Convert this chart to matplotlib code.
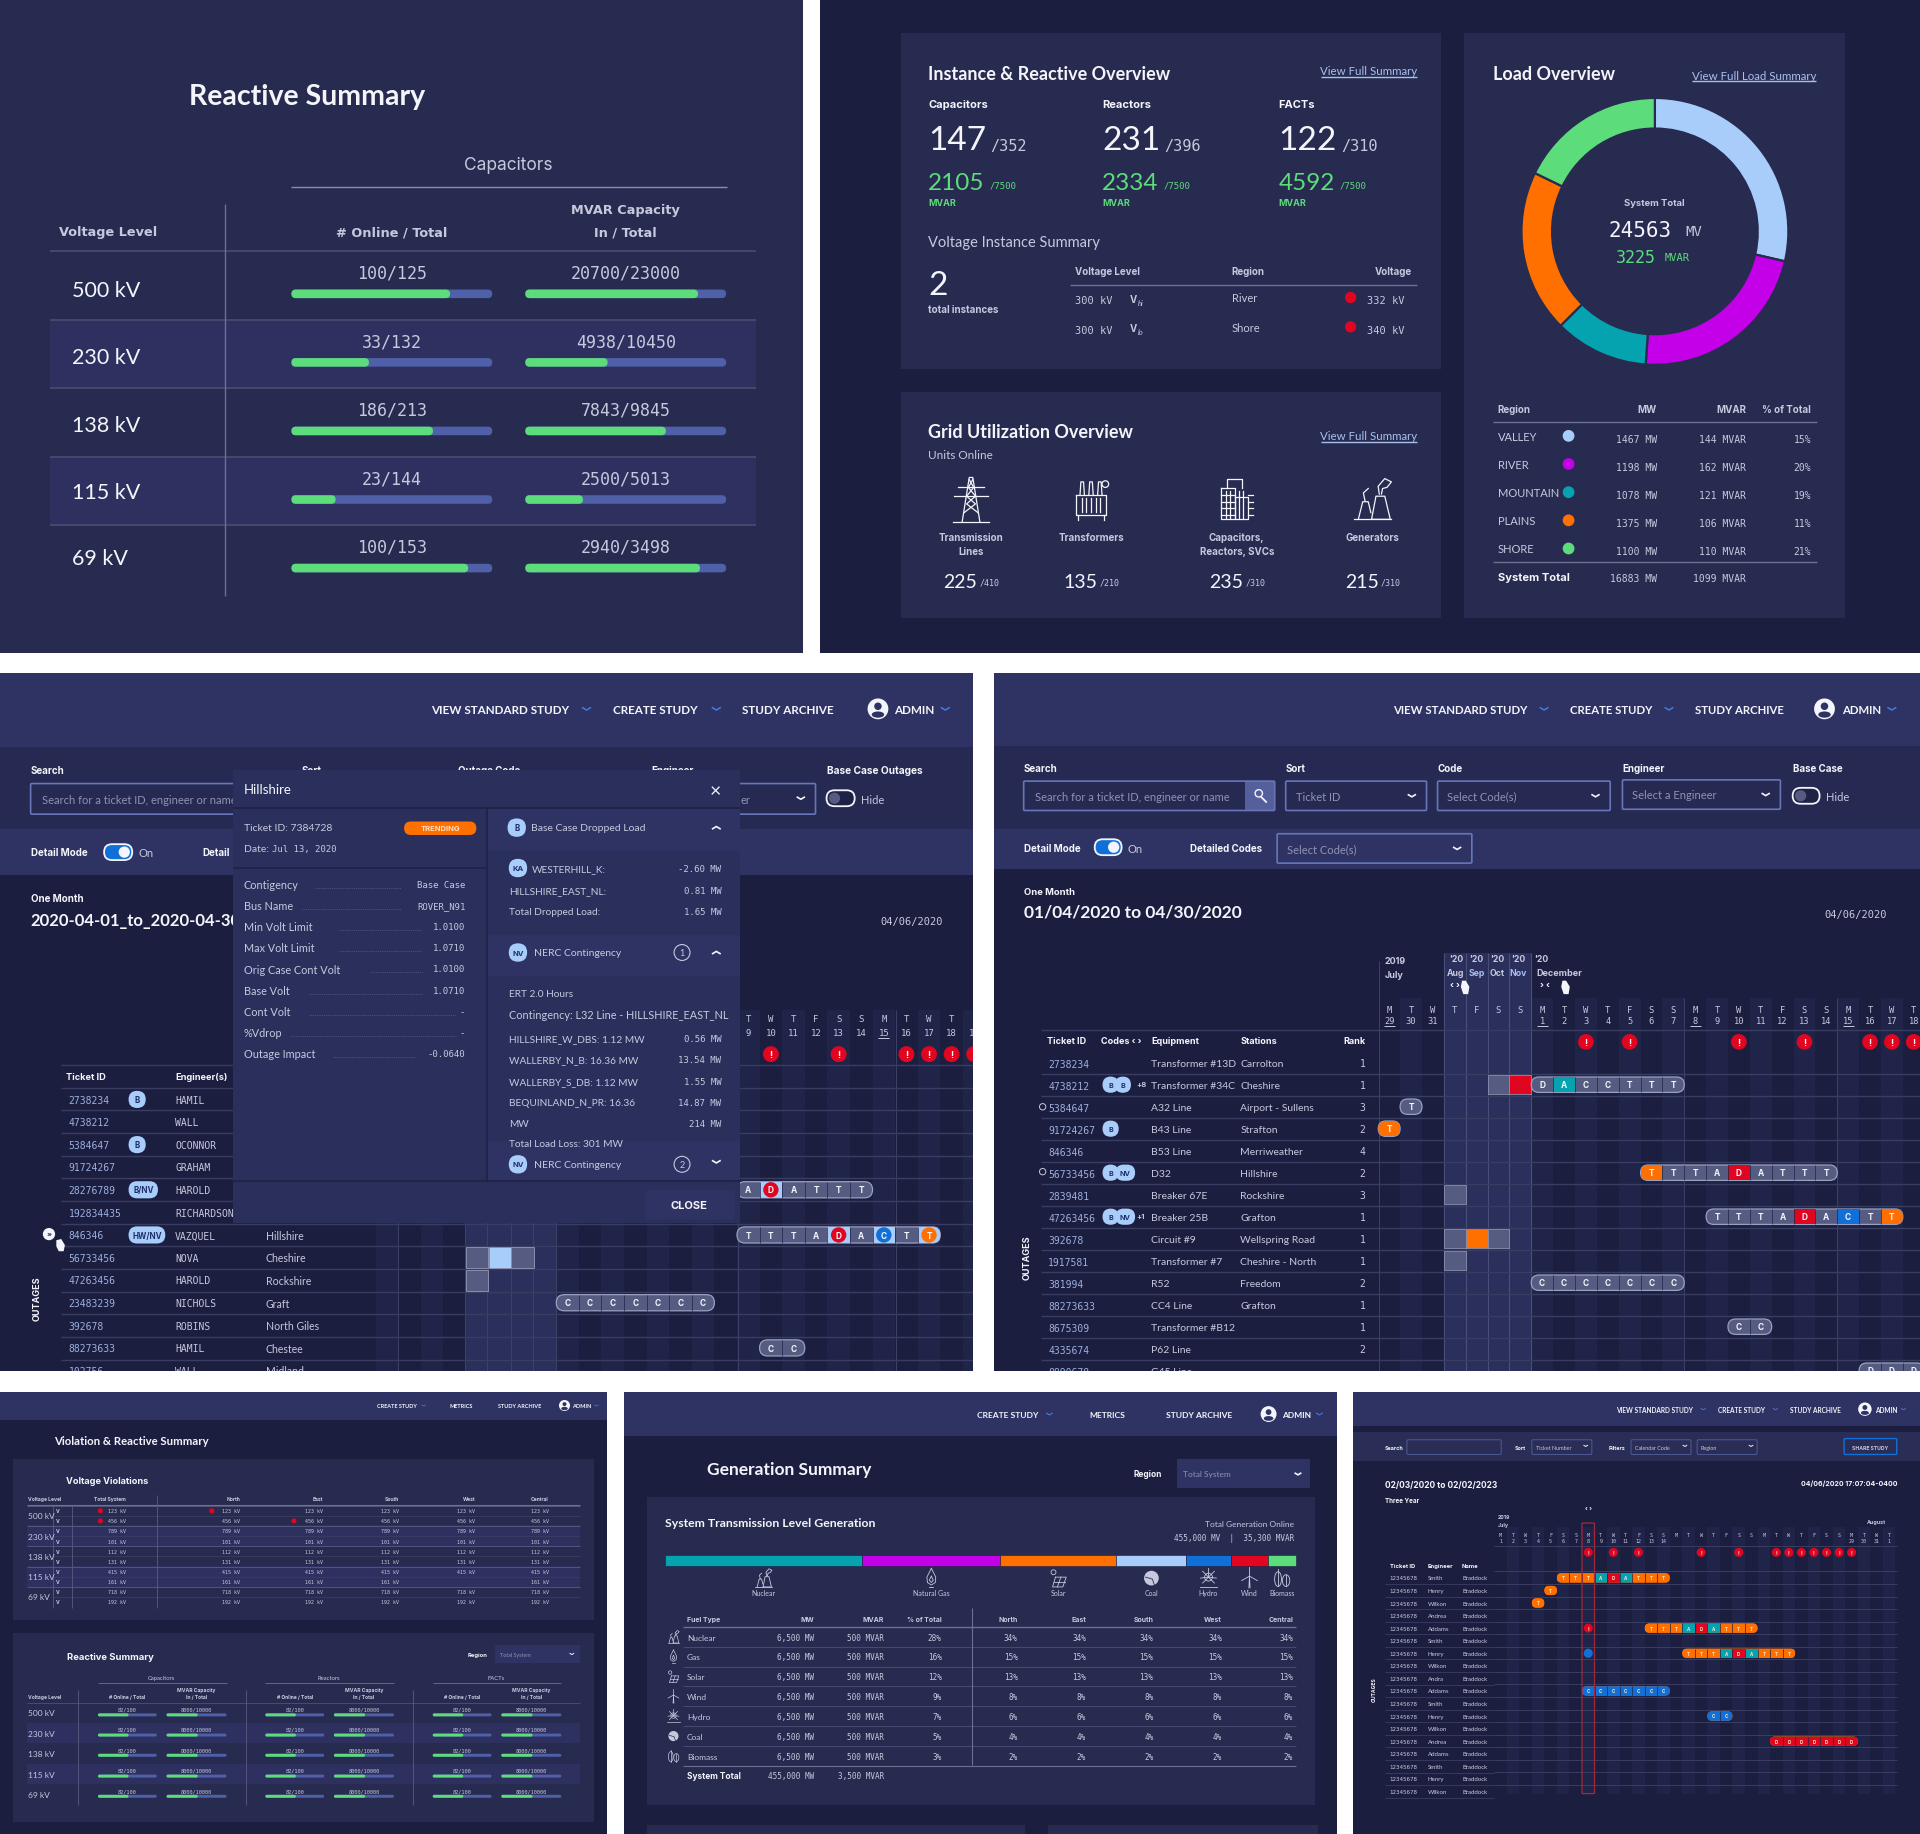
import matplotlib
matplotlib.use("Agg")
import matplotlib.pyplot as plt
from matplotlib.patches import Rectangle, FancyBboxPatch, Ellipse, Polygon

# ---- colours
PANEL = "#282b50"
DARK = "#1c1e40"
BAND = "#2e3160"
NAV = "#2f3363"
FILT = "#262a52"
LINE = "#4a4e75"
GRID2 = "#212449"
HILITE = "#2b2f5c"
GRAY = "#565b82"
WHITE = "#f4f5fa"
SOFT = "#c6c9dd"
GREEN = "#5cdc7a"
TRACK = "#5060a8"
LBLUE = "#a9cdfb"
PURPLE = "#c400e8"
TEAL = "#05a3b0"
ORANGE = "#ff7000"
RED = "#e0061f"
BLUE = "#1170d8"
LINK = "#a9c0ee"
CHEV = "#3f7ee0"

# ---- reactive summary (top left)
voltage_levels = ["500 kV", "230 kV", "138 kV", "115 kV", "69 kV"]
online_text = ["100/125", "33/132", "186/213", "23/144", "100/153"]
online_fill = [0.79, 0.386, 0.705, 0.22, 0.88]
mvar_text = ["20700/23000", "4938/10450", "7843/9845", "2500/5013", "2940/3498"]
mvar_fill = [0.86, 0.41, 0.70, 0.287, 0.87]

# ---- instance overview
inst_names = ["Capacitors", "Reactors", "FACTs"]
inst_big = ["147", "231", "122"]
inst_tot = ["/352", "/396", "/310"]
inst_mvar = ["2105", "2334", "4592"]
viol_level = ["300 kV", "300 kV"]
viol_sub = ["hi", "lo"]
viol_region = ["River", "Shore"]
viol_volt = ["332 kV", "340 kV"]

# ---- grid utilization
unit_names = [["Transmission", "Lines"], ["Transformers"], ["Capacitors,", "Reactors, SVCs"], ["Generators"]]
unit_big = ["225", "135", "235", "215"]
unit_tot = ["/410", "/210", "/310", "/310"]
unit_icons = ["tower", "transformer", "capacitor", "generator"]

# ---- load overview
load_regions = ["VALLEY", "RIVER", "MOUNTAIN", "PLAINS", "SHORE"]
load_share = [28.6, 22.5, 11.4, 19.7, 17.8]
load_colors = [LBLUE, PURPLE, TEAL, ORANGE, GREEN]
load_mw = ["1467 MW", "1198 MW", "1078 MW", "1375 MW", "1100 MW"]
load_mvar = ["144 MVAR", "162 MVAR", "121 MVAR", "106 MVAR", "110 MVAR"]
load_pct = ["15%", "20%", "19%", "11%", "21%"]

# ---- outage calendar, middle left
ml_tickets = ["2738234", "4738212", "5384647", "91724267", "28276789", "192834435", "846346",
              "56733456", "47263456", "23483239", "392678", "88273633", "102756"]
ml_badges = ["B", "", "B", "", "B/NV", "", "HW/NV", "", "", "", "", "", ""]
ml_engineers = ["HAMIL", "WALL", "OCONNOR", "GRAHAM", "HAROLD", "RICHARDSON", "VAZQUEL",
                "NOVA", "HAROLD", "NICHOLS", "ROBINS", "HAMIL", "WALL"]
ml_stations = ["", "", "", "", "", "", "Hillshire", "Cheshire", "Rockshire", "Graft",
               "North Giles", "Chestee", "Midland"]
ml_day_letters = ["T", "W", "T", "F", "S", "S", "M", "T", "W", "T", "F"]
ml_day_nums = ["9", "10", "11", "12", "13", "14", "15", "16", "17", "18", "19"]
ml_alert_cols = [9, 12, 15, 16, 17, 18]
# row, first column, letters, cell colours (. keeps the grey)
ml_pills = [(4, 8, "ADATTT", ".R...."), (6, 8, "TTTADACTT", "....R.B.O"),
            (9, 0, "CCCCCCC", "......."), (11, 9, "CC", "..")]
ml_squares = [(7, -4, GRAY), (7, -3, LBLUE), (7, -2, GRAY), (8, -4, GRAY)]

modal_labels = ["Contigency", "Bus Name", "Min Volt Limit", "Max Volt Limit", "Orig Case Cont Volt",
                "Base Volt", "Cont Volt", "%Vdrop", "Outage Impact"]
modal_values = ["Base Case", "ROVER_N91", "1.0100", "1.0710", "1.0100", "1.0710", "-", "-", "-0.0640"]
drop_labels = ["WESTERHILL_K:", "HILLSHIRE_EAST_NL:", "Total Dropped Load:"]
drop_values = ["-2.60 MW", "0.81 MW", "1.65 MW"]
cont_labels = ["HILLSHIRE_W_DBS: 1.12 MW", "WALLERBY_N_B: 16.36 MW", "WALLERBY_S_DB: 1.12 MW",
               "BEQUINLAND_N_PR: 16.36", "MW"]
cont_values = ["0.56 MW", "13.54 MW", "1.55 MW", "14.87 MW", "214 MW"]

# ---- outage calendar, middle right
mr_tickets = ["2738234", "4738212", "5384647", "91724267", "846346", "56733456", "2839481", "47263456",
              "392678", "1917581", "381994", "88273633", "8675309", "4335674", "8890678"]
mr_equipment = ["Transformer #13D", "Transformer #34C", "A32 Line", "B43 Line", "B53 Line", "D32",
                "Breaker 67E", "Breaker 25B", "Circuit #9", "Transformer #7", "R52", "CC4 Line",
                "Transformer #B12", "P62 Line", "G45 Line"]
mr_stations = ["Carrolton", "Cheshire", "Airport - Sullens", "Strafton", "Merriweather", "Hillshire",
               "Rockshire", "Grafton", "Wellspring Road", "Cheshire - North", "Freedom", "Grafton", "", "", ""]
mr_rank = ["1", "1", "3", "2", "4", "2", "3", "1", "1", "1", "2", "1", "1", "2", ""]
mr_codes = [[], ["B", "B"], [], ["B"], [], ["B", "NV"], [], ["B", "NV"], [], [], [], [], [], [], []]
mr_extra = ["", "+8", "", "", "", "", "", "+1", "", "", "", "", "", "", ""]
mr_day_letters = ["M", "T", "W", "T", "F", "S", "S", "M", "T", "W", "T", "F", "S", "S",
                  "M", "T", "W", "T", "F", "S", "S", "M", "T", "W", "T"]
mr_day_nums = ["29", "30", "31", "", "", "", "", "1", "2", "3", "4", "5", "6", "7",
               "8", "9", "10", "11", "12", "13", "14", "15", "16", "17", "18"]
mr_alert_cols = [9, 11, 16, 19, 22, 23, 24]
mr_pills = [(1, 7, "DACCTTT", ".T....."), (2, 1, "T", "."), (3, 0, "T", "O"),
            (5, 12, "TTTADATTT", "O...R...."), (7, 15, "TTTADACTT", "....R.B.O"),
            (10, 7, "CCCCCCC", "......."), (12, 16, "CC", ".."), (14, 22, "DDD", "...")]
mr_squares = [(1, 5, GRAY), (1, 6, RED), (6, 3, GRAY), (8, 3, GRAY), (8, 4, ORANGE), (8, 5, GRAY), (9, 3, GRAY)]

# ---- violation & reactive summary
vv_values = ["123", "456", "789", "101", "112", "131", "415", "161", "718", "192"]
vv_heads = ["Total System", "North", "East", "South", "West", "Central"]
vv_red = [(0, 0), (1, 0), (0, 1), (1, 2)]
rs_groups = ["Capacitors", "Reactors", "FACTs"]
rs_online = "82/100"
rs_mvar = "8000/10000"
rs_fill = [0.52, 0.52, 0.52, 0.52, 0.52]

# ---- generation summary
gen_labels = ["Nuclear", "Natural Gas", "Solar", "Coal", "Hydro", "Wind", "Biomass"]
gen_icons = ["nuclear", "gas", "solar", "coal", "hydro", "wind", "biomass"]
gen_share = [31.3, 21.9, 18.4, 11.1, 7.0, 6.0, 4.3]
gen_colors = [TEAL, PURPLE, ORANGE, LBLUE, BLUE, RED, GREEN]
fuel_rows = ["Nuclear", "Gas", "Solar", "Wind", "Hydro", "Coal", "Biomass"]
fuel_icons = ["nuclear", "gas", "solar", "wind", "hydro", "coal", "biomass"]
fuel_pct = ["28%", "16%", "12%", "9%", "7%", "5%", "3%"]
fuel_region_pct = ["34%", "15%", "13%", "8%", "6%", "4%", "2%"]
gen_regions = ["North", "East", "South", "West", "Central"]

# ---- three year calendar
br_names = ["Smith", "Henry", "Wilkon", "Andrea", "Addams", "Smith", "Henry", "Wilkon", "Andra",
            "Addams", "Smith", "Henry", "Wilkon", "Andrea", "Addams", "Smith", "Henry", "Wilkon"]
br_day_letters = ["M", "T", "W", "T", "F", "S", "S"] * 4 + ["M", "T", "W", "T"]
br_day_nums = ["1", "2", "3", "4", "5", "6", "7", "8", "9", "10", "11", "12", "13", "14"] + [""] * 14 + ["29", "30", "31", "1"]
br_alert_cols = [7, 9, 11, 16, 19, 22, 23, 24, 25, 26, 27, 28]
br_pills = [(0, 5, "TTTADATTT", "OOOTRTOOO"), (1, 4, "T", "O"), (2, 3, "T", "O"), (4, 12, "TTTADATTT", "OOOTRTOOO"),
            (6, 15, "TTTADATTT", "OOOTRTOOO"), (9, 7, "CCCCCCC", "BBBBBBB"), (11, 17, "CC", "BB"),
            (13, 22, "DDDDDDD", "RRRRRRR")]

CELL = {".": None, "R": RED, "B": BLUE, "O": ORANGE, "T": TEAL}

SANS = "Lato"
MONO = "DejaVu Sans Mono"
WIDE = "DejaVu Sans"

fig = plt.figure(figsize=(19.2, 18.34), dpi=100, facecolor="white")
ax = fig.add_axes([0, 0, 1, 1])
ax.set_xlim(0, 1568)
ax.set_ylim(1498, 0)
ax.axis("off")


def T(x, y, s, fs=8, c=SOFT, w="normal", ha="left", f=None, z=6, **kw):
    if f is None:
        f = "Inter" if (w == "bold" and fs < 10.5) else SANS
    return ax.text(x, y + 0.5 + 0.08 * fs, s, fontsize=fs, color=c, fontweight=w, ha=ha, va="center",
                   family=f, zorder=z, **kw)


def box(x0, y0, x1, y1, c, z=1, ec="none", lw=0):
    ax.add_patch(Rectangle((x0, y0), x1 - x0, y1 - y0, fc=c, ec=ec, lw=lw, zorder=z))


def rbox(x0, y0, x1, y1, c, r=3, z=4, ec="none", lw=0):
    p = FancyBboxPatch((x0, y0), x1 - x0, y1 - y0, boxstyle="round,pad=0,rounding_size=%f" % r,
                       fc=c, ec=ec, lw=lw, zorder=z)
    ax.add_patch(p)
    return p


def hl(x0, x1, y, c=LINE, lw=1.0, z=3, **kw):
    ax.plot([x0, x1], [y, y], color=c, lw=lw, zorder=z, solid_capstyle="butt", **kw)


def vl(x, y0, y1, c=LINE, lw=1.0, z=3):
    ax.plot([x, x], [y0, y1], color=c, lw=lw, zorder=z, solid_capstyle="butt")


def chev(x, y, s=3, c=SOFT, up=False, lw=1.2, z=6):
    d = -s * 0.6 if up else s * 0.6
    ax.plot([x - s, x, x + s], [y - d / 2, y + d / 2, y - d / 2], color=c, lw=lw, zorder=z)


def dot(x, y, r, c, z=5, ec="none", lw=0):
    ax.add_patch(Ellipse((x, y), 2 * r, 2 * r, fc=c, ec=ec, lw=lw, zorder=z))


def progress(x0, x1, y, frac, h=7):
    rbox(x0, y - h / 2, x1, y + h / 2, TRACK, r=h / 2, z=4)
    rbox(x0, y - h / 2, x0 + (x1 - x0) * frac, y + h / 2, GREEN, r=h / 2, z=5)


def badge(x, y, s, fs=6.5, h=8, z=6, wide=None):
    wd = wide if wide else h
    rbox(x - wd, y - h, x + wd, y + h, LBLUE, r=h, z=z)
    T(x, y, s, fs, "#20306a", "bold", "center", z=z + 1)


def user_icon(x, y, r, z=6):
    dot(x, y, r, WHITE, z=z)
    dot(x, y - r * 0.25, r * 0.36, NAV, z=z + 1)
    ax.add_patch(Ellipse((x, y + r * 0.55), r * 1.2, r * 0.6, fc=NAV, ec="none", zorder=z + 1))


def nav(items, y, fs, icon_x, icon_r, admin_x):
    # items: x, label, chevron x
    for x, s, ch in items:
        T(x, y, s, fs, WHITE, "bold", f=SANS)
        if ch:
            chev(ch, y, fs * 0.38, CHEV, lw=fs * 0.13)
    user_icon(icon_x, y, icon_r)
    T(admin_x, y, "ADMIN", fs, WHITE, "bold", f=SANS)
    chev(admin_x + fs * 5.0, y, fs * 0.38, CHEV, lw=fs * 0.13)


def dropdown(x0, y0, x1, y1, s, fs=8, c="#8e93b4", z=4):
    rbox(x0, y0, x1, y1, "none", r=1, z=z, ec="#6776b8", lw=1.2)
    T(x0 + 8, (y0 + y1) / 2, s, fs, c, z=z + 1)
    chev(x1 - 12, (y0 + y1) / 2, 2.8, WHITE, z=z + 1)


def toggle(x0, x1, y, on=True, z=5):
    h = 6.5
    rbox(x0, y - h, x1, y + h, BLUE if on else "#1f2245", r=h, z=z, ec=WHITE, lw=1.3)
    dot(x1 - h if on else x0 + h, y, 4.6, WHITE if on else GRAY, z=z + 1)


def pill(x_of, y, col, letters, colors, cw, h, fs, base=GRAY, ec="#9aa0c0", txt=WHITE, z=5, round_marks=False):
    x0 = x_of(col) - cw / 2
    x1 = x_of(col + len(letters) - 1) + cw / 2
    p = rbox(x0, y - h, x1, y + h, base, r=h, z=z, ec=ec, lw=0.9)
    for i, (l, k) in enumerate(zip(letters, colors)):
        xc = x_of(col + i)
        if CELL[k]:
            r = Rectangle((xc - cw / 2, y - h), cw, 2 * h, fc=LBLUE if round_marks else CELL[k], ec="none", zorder=z + 0.2)
            ax.add_patch(r)
            r.set_clip_path(p)
            if round_marks:
                dot(xc, y, h * 0.95, CELL[k], z=z + 0.4)
        if i > 0:
            vl(xc - cw / 2, y - h, y + h, "#1f2245", 0.5, z=z + 0.3)
        T(xc, y, l, fs, txt, "bold", "center", z=z + 1)


def icon(kind, cx, cy, s, c=WHITE, lw=0.9, z=6):
    def pl(pts, closed=False):
        xs = [cx + p[0] * s for p in pts]
        ys = [cy + p[1] * s for p in pts]
        if closed:
            xs.append(xs[0])
            ys.append(ys[0])
        ax.plot(xs, ys, color=c, lw=lw, zorder=z, solid_joinstyle="round")

    if kind == "tower":
        pl([(-.4, 1), (-.08, -1), (.08, -1), (.4, 1)])
        pl([(-.6, -.55), (.6, -.55)])
        pl([(-.75, -.15), (.75, -.15)])
        pl([(-.32, .6), (.2, .2), (-.2, -.15), (.12, -.55), (-.08, -.9)])
        pl([(.32, .6), (-.2, .2), (.2, -.15), (-.12, -.55), (.08, -.9)])
        pl([(-.8, 1), (.8, 1)])
    elif kind == "transformer":
        pl([(-.7, -.2), (.7, -.2), (.7, .7), (-.7, .7)], True)
        for i in range(5):
            pl([(-.42 + i * .21, -.05), (-.42 + i * .21, .55)])
        for xb in (-.4, 0, .4):
            pl([(xb - .1, -.2), (xb - .06, -.8), (xb + .06, -.8), (xb + .1, -.2)])
        pl([(-.6, .7), (-.6, .95)])
        pl([(.6, .7), (.6, .95)])
        ax.add_patch(Ellipse((cx + .65 * s, cy - .7 * s), .3 * s, .3 * s, fc="none", ec=c, lw=lw, zorder=z))
    elif kind == "capacitor":
        pl([(-.7, -.5), (-.1, -.5), (-.1, .9), (-.7, .9)], True)
        pl([(-.1, -.1), (.5, -.1), (.5, .9), (-.1, .9)], True)
        pl([(-.45, -.5), (-.45, -.95), (.25, -.95), (.25, -.5)])
        for yy in (-.2, .1, .4, .7):
            pl([(-.7, yy), (-.1, yy)])
            pl([(.5, yy), (.75, yy)])
        for xx in (-.5, -.3, .1, .3):
            pl([(xx, -.4), (xx, .85)])
    elif kind in ("generator", "nuclear"):
        pl([(-.05, .9), (.15, -.15), (.55, -.15), (.8, .9)], True)
        pl([(-.65, .9), (-.45, .1), (-.2, .1), (-.08, .6)])
        pl([(-.85, .9), (.85, .9)])
        pl([(.3, -.25), (.25, -.6), (.55, -.95), (.85, -.8), (.65, -.55), (.45, -.5), (.4, -.25)])
        pl([(-.35, .05), (-.42, -.3), (-.2, -.5)])
    elif kind == "gas":
        pl([(0, -1), (.45, -.1), (.4, .45), (0, .7), (-.4, .45), (-.45, -.1)], True)
        pl([(0, -.2), (.2, .2), (0, .45), (-.2, .2)], True)
        pl([(-.2, .95), (.2, .95)])
    elif kind == "solar":
        pl([(-.3, -.1), (.8, -.1), (.45, .9), (-.6, .9)], True)
        pl([(.25, -.1), (-.1, .9)])
        pl([(-.45, .4), (.65, .4)])
        ax.add_patch(Ellipse((cx - .5 * s, cy - .6 * s), .5 * s, .5 * s, fc="none", ec=c, lw=lw, zorder=z))
    elif kind == "coal":
        ax.add_patch(Ellipse((cx, cy), 1.5 * s, 1.5 * s, fc=c, ec="none", zorder=z))
        ax.plot([cx - .6 * s, cx + .1 * s, cx + .3 * s], [cy - .1 * s, cy + .1 * s, cy + .7 * s],
                color=PANEL, lw=lw, zorder=z + 0.1)
    elif kind == "hydro":
        for a, b in [(-.8, 0), (0, -1), (.6, -.7), (-.6, -.7), (.8, 0), (.6, .5), (-.6, .5)]:
            pl([(0, -.1), (a, b)])
        ax.add_patch(Ellipse((cx, cy - .1 * s), .8 * s, .8 * s, fc="none", ec=c, lw=lw, zorder=z))
        pl([(-.9, .9), (.9, .9)])
    elif kind == "wind":
        pl([(-.06, 1), (0, -.2), (.06, 1)])
        pl([(0, -.2), (0, -1.1)])
        pl([(0, -.2), (-.8, .25)])
        pl([(0, -.2), (.8, .25)])
    else:
        ax.add_patch(Ellipse((cx - .4 * s, cy + .1 * s), .7 * s, 1.5 * s, fc="none", ec=c, lw=lw, zorder=z))
        ax.add_patch(Ellipse((cx + .42 * s, cy + .25 * s), .75 * s, 1.2 * s, fc="none", ec=c, lw=lw, zorder=z))
        pl([(-.4, -.9), (-.4, .85)])
        pl([(.42, -.35), (.42, .85)])


# ---- panel backgrounds
box(0, 0, 656, 533, PANEL)
box(670, 0, 1568, 533, DARK)
box(0, 550, 795, 1120, DARK)
box(812, 550, 1568, 1120, DARK)
box(0, 1137, 496, 1498, DARK)
box(510, 1137, 1092, 1498, DARK)
box(1105, 1137, 1568, 1498, DARK)

# ============ top left: reactive summary
T(154, 77, "Reactive Summary", 20.5, WHITE, "bold")
T(415, 134, "Capacitors", 12.5, SOFT, ha="center", f="Inter")
hl(238, 594, 153, "#8a8da6")
T(48, 189, "Voltage Level", 9.3, SOFT, "bold", f=WIDE)
T(320, 189, "# Online / Total", 9.3, SOFT, "bold", "center", f=WIDE)
T(511, 171, "MVAR Capacity", 9.3, SOFT, "bold", "center", f=WIDE)
T(511, 189, "In / Total", 9.3, SOFT, "bold", "center", f=WIDE)
row_lines = [205, 261, 317, 373, 429]
row_label_y = [236, 291, 346, 401, 455]
for i in range(5):
    if i % 2 == 1:
        box(41, row_lines[i], 617, row_lines[i + 1], BAND, z=2)
    hl(41, 617, row_lines[i], "#4a4d72", 1.2)
    T(59, row_label_y[i], voltage_levels[i], 15.5, WHITE)
    T(320, row_lines[i] + 17, online_text[i], 12, SOFT, ha="center", f=MONO)
    T(511, row_lines[i] + 17, mvar_text[i], 12, SOFT, ha="center", f=MONO)
    progress(238, 402, row_lines[i] + 35, online_fill[i])
    progress(429, 593, row_lines[i] + 35, mvar_fill[i])
vl(184, 167, 487, "#6d7090")

# ============ top right: overview cards
for x0, y0, x1, y1 in [(736, 27, 1177, 301), (736, 320, 1177, 505), (1196, 27, 1507, 505)]:
    box(x0, y0, x1, y1, PANEL, z=2)

T(758, 59, "Instance & Reactive Overview", 13, WHITE, "bold")
T(1157, 57, "View Full Summary", 8.3, LINK, ha="right")
hl(1079, 1157, 63, LINK)
for x, n, big, tot, mv in zip([758, 900, 1044], inst_names, inst_big, inst_tot, inst_mvar):
    T(x, 85, n, 8, WHITE, "bold")
    T(x, 113, big, 24, WHITE)
    T(x + 51, 118, tot, 11, SOFT, f=MONO)
    T(x, 148, mv, 17.5, GREEN)
    T(x + 50, 151, "/7500", 6.5, GREEN, f=MONO)
    T(x, 165, "MVAR", 6.5, GREEN, "bold")
T(758, 197, "Voltage Instance Summary", 10.5, SOFT)
T(758, 231, "2", 24, WHITE)
T(758, 252, "total instances", 7, SOFT, "bold")
T(878, 221, "Voltage Level", 7, SOFT, "bold")
T(1006, 221, "Region", 7, SOFT, "bold")
T(1153, 221, "Voltage", 7, SOFT, "bold", "right")
hl(874, 1157, 233, "#6d7090")
for i, y in enumerate([244, 268]):
    T(878, y + 1, viol_level[i], 7.5, SOFT, f=MONO)
    T(923, y, "V", 7, SOFT, "bold")
    T(929, y + 3, viol_sub[i], 5.5, SOFT, style="italic")
    T(1006, y - 1, viol_region[i], 8, SOFT)
    dot(1103, y - 1, 4.6, RED)
    T(1116, y + 1, viol_volt[i], 7.5, SOFT, f=MONO)

T(758, 352, "Grid Utilization Overview", 13, WHITE, "bold")
T(1157, 355, "View Full Summary", 8.3, LINK, ha="right")
hl(1079, 1157, 361, LINK)
T(758, 371, "Units Online", 8.5, SOFT)
for x, names, big, tot, ic in zip([793, 891, 1010, 1121], unit_names, unit_big, unit_tot, unit_icons):
    icon(ic, x, 408, 18)
    for j, n in enumerate(names):
        T(x, 438 + j * 11.5, n, 7, SOFT, "bold", "center")
    T(x - 9, 474, big, 14, WHITE, ha="center")
    T(x + 15, 475, tot, 6, SOFT, ha="center", f=MONO)

T(1219, 59, "Load Overview", 13, WHITE, "bold")
T(1483, 61, "View Full Load Summary", 8.3, LINK, ha="right")
hl(1382, 1483, 66, LINK)
pie_ax = fig.add_axes([(1351.5 - 112) / 1568, 1 - (189 + 112) / 1498, 224 / 1568, 224 / 1498])
pie_ax.pie(load_share, colors=load_colors, startangle=90, counterclock=False, radius=109 / 112,
           wedgeprops={"width": 25 / 112, "edgecolor": PANEL, "linewidth": 1.6})
pie_ax.set_xlim(-1, 1)
pie_ax.set_ylim(-1, 1)
T(1351, 165, "System Total", 6.8, SOFT, "bold", "center")
T(1339, 187, "24563", 15, WHITE, ha="center", f=MONO)
T(1383, 188, "MV", 10, SOFT, ha="center", f=MONO)
T(1336, 209, "3225", 12, GREEN, ha="center", f=MONO)
T(1370, 210, "MVAR", 7.5, GREEN, ha="center", f=MONO)

T(1223, 334, "Region", 7, SOFT, "bold")
T(1353, 334, "MW", 7, SOFT, "bold", "right")
T(1426, 334, "MVAR", 7, SOFT, "bold", "right")
T(1479, 334, "% of Total", 7, SOFT, "bold", "right")
hl(1219, 1484, 345, "#6d7090")
for i, y in enumerate([357, 380, 403, 426, 449]):
    T(1223, y - 1, load_regions[i], 8, SOFT)
    dot(1281, y - 1, 4.8, load_colors[i])
    T(1353, y + 1, load_mw[i], 7, SOFT, ha="right", f=MONO)
    T(1426, y + 1, load_mvar[i], 7, SOFT, ha="right", f=MONO)
    T(1479, y + 1, load_pct[i], 7, SOFT, ha="right", f=MONO)
hl(1219, 1484, 459, "#6d7090")
T(1223, 471, "System Total", 8, WHITE, "bold")
T(1353, 472, "16883 MW", 7, SOFT, ha="right", f=MONO)
T(1426, 472, "1099 MVAR", 7, SOFT, ha="right", f=MONO)

# ============ middle left calendar
box(0, 550, 795, 610, NAV, z=2)
box(0, 610, 795, 677, FILT, z=2)
box(0, 677, 795, 715, NAV, z=2)
nav([(352, "VIEW STANDARD STUDY", 479), (501, "CREATE STUDY", 585), (606, "STUDY ARCHIVE", None)], 579, 8.4, 717, 8.5, 730)
T(25, 629, "Search", 7, WHITE, "bold")
T(246, 629, "Sort", 7, WHITE, "bold")
T(374, 629, "Outage Code", 7, WHITE, "bold")
T(532, 629, "Engineer", 7, WHITE, "bold")
T(675, 629, "Base Case Outages", 7.3, WHITE, "bold")
rbox(25, 640, 240, 665, "none", r=1, ec="#6776b8", lw=1.2)
T(34, 653, "Search for a ticket ID, engineer or name", 8, "#8e93b4")
rbox(560, 640, 666, 665, "none", r=1, ec="#6776b8", lw=1.2)
T(605, 653, "er", 8, "#8e93b4")
chev(654, 652, 2.8, WHITE)
toggle(675, 698, 652, False)
T(703, 653, "Hide", 8, SOFT)
T(25, 696, "Detail Mode", 7, WHITE, "bold")
toggle(85, 108, 696, True)
T(113, 696, "On", 8, SOFT)
T(165, 696, "Detail", 7, WHITE, "bold")
T(25, 733, "One Month", 7, WHITE, "bold")
T(25, 751, "2020-04-01_to_2020-04-30", 12, WHITE, "bold")
T(770, 752, "04/06/2020", 7.5, SOFT, ha="right", f=MONO)


def ml_x(i):
    return 463.5 + 18.45 * i


for i in range(-8, 19):
    if i % 2 == 0:
        box(ml_x(i) - 9.2, 825, ml_x(i) + 9.2, 1120, GRID2, z=2)
box(380, 825, 454, 1120, HILITE, z=2.1)
for x in (398, 417, 435, 454, 380, 325, 603, 732):
    vl(x, 825, 1120, "#3e4268", 0.7)
for i in range(13):
    hl(50, 795, 870 + 18.5 * i, "#3a3d62", 1)
    yr = 898 + 18.45 * i
    T(56, yr, ml_tickets[i], 7, "#9cb0e0", f=MONO)
    if ml_badges[i]:
        wide = 7 if len(ml_badges[i]) == 1 else (12 if len(ml_badges[i]) == 4 else 15)
        badge(105 + wide, yr, ml_badges[i], 5.8, 7, wide=wide)
    T(143, yr, ml_engineers[i], 7, SOFT, f=MONO)
    T(217, yr, ml_stations[i], 7.6, SOFT)
hl(50, 795, 870 + 18.5 * 13, "#3a3d62", 1)
T(54, 879, "Ticket ID", 6.6, WHITE, "bold")
T(143, 879, "Engineer(s)", 6.6, WHITE, "bold")
for j, (l, n) in enumerate(zip(ml_day_letters, ml_day_nums)):
    T(ml_x(8 + j), 832, l, 6.5, SOFT, ha="center", f=MONO)
    T(ml_x(8 + j), 843, n, 6.5, SOFT, ha="center", f=MONO)
    if l == "M":
        hl(ml_x(8 + j) - 4.5, ml_x(8 + j) + 4.5, 848, SOFT, 0.7, z=6)
for c in ml_alert_cols:
    dot(ml_x(c), 861, 6.5, RED)
    T(ml_x(c), 861, "!", 6.5, WHITE, "bold", "center")
for r, c, k in ml_squares:
    box(ml_x(c) - 9.2, 898 + 18.45 * r - 8.5, ml_x(c) + 9.2, 898 + 18.45 * r + 8.5, k, z=4, ec="#8a8fb0", lw=0.7)
for r, c, l, k in ml_pills:
    pill(ml_x, 898 + 18.45 * r, c, l, k, 18.45, 6.6, 6, round_marks=True)
dot(40, 1008, 5, WHITE)
T(40, 1008, "»", 5.5, "#20306a", "bold", "center", z=7)
ax.add_patch(Polygon([(46, 1013), (50, 1012), (53, 1017), (52, 1022), (48, 1022), (46, 1018)], fc=WHITE, ec="none", zorder=7))
T(30, 1060, "OUTAGES", 6.5, WHITE, "bold", "center", rotation=90)

# modal dialog on top of the calendar
M = 12
box(190, 629, 604, 999, "#2b2f5c", z=10)
T(199, 644, "Hillshire", 9.5, WHITE, z=M)
T(584, 645, "×", 14, WHITE, ha="center", z=M)
hl(190, 604, 660, "#1f2245", 1.2, z=11)
vl(398, 660, 965, "#1f2245", 1.2, z=11)
hl(190, 604, 965, "#1f2245", 1.2, z=11)
hl(190, 398, 709, "#1f2245", 1.2, z=11)
box(398, 661, 604, 695, NAV, z=10.5)
box(398, 764, 604, 797, NAV, z=10.5)
box(398, 932, 604, 965, NAV, z=10.5)
T(199, 676, "Ticket ID: 7384728", 7.5, SOFT, z=M)
rbox(330, 671, 389, 682, ORANGE, r=5.5, z=M)
T(359.5, 676.5, "TRENDING", 5.5, "#ffe0c8", "bold", "center", z=M + 1)
T(199, 693, "Date:", 7.5, SOFT, z=M)
T(222, 693, "Jul 13, 2020", 6.5, SOFT, z=M, f=MONO)
for i, (l, v) in enumerate(zip(modal_labels, modal_values)):
    y = 722 + 17.3 * i
    T(199, y, l, 7.8, SOFT, z=M)
    T(380, y, v, 6.5, SOFT, ha="right", f=MONO, z=M)
    ax.plot([199 + 5.0 * len(l) + 8, 378 - 5.6 * len(v)], [y + 3, y + 3], color="#6d7090", lw=0.5, ls=":", zorder=M)
badge(422, 676, "B", 5.8, 7.5, z=M)
T(434, 676, "Base Case Dropped Load", 7.5, SOFT, z=M)
chev(585, 676, 3, WHITE, True, z=M)
ddy = [709, 727, 744]
badge(423, 709, "KA", 5.5, 7.5, z=M)
for i, (l, v) in enumerate(zip(drop_labels, drop_values)):
    T(434 if i == 0 else 416, ddy[i], l, 7.3, SOFT, z=M)
    T(589, ddy[i], v, 6.5, SOFT, ha="right", f=MONO, z=M)
badge(423, 778, "NV", 5.5, 7.5, z=M)
T(436, 778, "NERC Contingency", 7.5, SOFT, z=M)
dot(557, 778, 6.5, "none", z=M, ec=SOFT, lw=0.8)
T(557, 778, "1", 6.5, SOFT, ha="center", z=M)
chev(585, 778, 3, WHITE, True, z=M)
T(416, 811, "ERT 2.0 Hours", 7.3, SOFT, z=M)
T(416, 828, "Contingency: L32 Line - HILLSHIRE_EAST_NL", 7.8, SOFT, z=M)
for i, (l, v) in enumerate(zip(cont_labels, cont_values)):
    y = 848 + 17.4 * i
    T(416, y, l, 7.3, SOFT, z=M)
    T(589, y, v, 6.5, SOFT, ha="right", f=MONO, z=M)
T(416, 934, "Total Load Loss: 301 MW", 7.3, SOFT, z=M)
badge(423, 951, "NV", 5.5, 7.5, z=M)
T(436, 951, "NERC Contingency", 7.5, SOFT, z=M)
dot(557, 951, 6.5, "none", z=M, ec=SOFT, lw=0.8)
T(557, 951, "2", 6.5, SOFT, ha="center", z=M)
chev(585, 949, 3, WHITE, z=M)
rbox(527, 972, 600, 996, "#2f3363", r=2, z=11)
T(563, 984, "CLOSE", 8, WHITE, "bold", "center", z=M)

# ============ middle right calendar
box(812, 550, 1568, 609, NAV, z=2)
box(812, 609, 1568, 677, FILT, z=2)
box(812, 677, 1568, 710, NAV, z=2)
nav([(1138, "VIEW STANDARD STUDY", 1261), (1282, "CREATE STUDY", 1363), (1384, "STUDY ARCHIVE", None)], 579, 8.2, 1490, 8.5, 1504)
for x, s in [(836, "Search"), (1050, "Sort"), (1174, "Code"), (1325, "Engineer"), (1464, "Base Case")]:
    T(x, 627, s, 7, WHITE, "bold")
rbox(836, 638, 1041, 662, "none", r=1, ec="#6776b8", lw=1.2)
box(1017, 638, 1041, 662, "#545f9c", z=3)
T(845, 650, "Search for a ticket ID, engineer or name", 8, "#8e93b4")
dot(1028, 648, 3, "none", ec=WHITE, lw=1, z=6)
ax.plot([1030, 1034], [651, 655], color=WHITE, lw=1.3, zorder=6)
dropdown(1050, 638, 1165, 662, "Ticket ID")
dropdown(1174, 638, 1315, 662, "Select Code(s)")
dropdown(1325, 637, 1454, 661, "Select a Engineer")
toggle(1464, 1486, 650, False)
T(1491, 650, "Hide", 8, SOFT)
T(836, 692, "Detail Mode", 7, WHITE, "bold")
toggle(894, 916, 692, True)
T(921, 693, "On", 8, SOFT)
T(972, 692, "Detailed Codes", 7, WHITE, "bold")
dropdown(1043, 681, 1202, 705, "Select Code(s)")
T(836, 728, "One Month", 6.8, WHITE, "bold")
T(836, 744, "01/04/2020 to 04/30/2020", 12.5, WHITE, "bold")
T(1541, 746, "04/06/2020", 7.5, SOFT, ha="right", f=MONO)


def mr_x(i):
    return 1134.5 + 17.85 * i


for i in range(0, 26):
    if i % 2 == 1:
        box(mr_x(i) - 8.9, 815, mr_x(i) + 8.9, 1120, GRID2, z=2)
box(1179, 778, 1250, 1120, HILITE, z=2.1)
for x in (1179, 1197, 1215, 1232, 1250):
    vl(x, 778, 1120, "#4b4f78", 0.8)
for x in (1126, 1375, 1500):
    vl(x, 785 if x == 1126 else 815, 1120, "#3e4268", 0.7)
T(1131, 784, "2019", 6.5, SOFT, "bold")
T(1131, 796, "July", 6.5, SOFT, "bold")
for x, m, k in [(1189, "Aug", SOFT), (1206, "Sep", LINK), (1223, "Oct", SOFT), (1240, "Nov", LINK)]:
    T(x, 783, "'20", 6.3, SOFT, "bold", "center")
    T(x, 794, m, 6.3, k, "bold", "center")
T(1253, 783, "'20", 6.3, SOFT, "bold")
T(1255, 794, "December", 6.5, SOFT, "bold")
T(1188, 804, "‹ ›", 6.5, WHITE, "bold", "center")
T(1262, 804, "› ‹", 6.5, WHITE, "bold", "center")
for xc in (1196, 1278):
    ax.add_patch(Polygon([(xc - 2, 801), (xc + 1, 801), (xc + 4, 806), (xc + 3, 812), (xc - 1, 812), (xc - 3, 806)], fc=WHITE, ec="none", zorder=7))
for j, (l, n) in enumerate(zip(mr_day_letters, mr_day_nums)):
    T(mr_x(j), 824, l, 6.3, SOFT, ha="center", f=MONO)
    if n:
        T(mr_x(j), 833, n, 6.3, SOFT, ha="center", f=MONO)
        if l == "M":
            hl(mr_x(j) - 4.5, mr_x(j) + 4.5, 838, SOFT, 0.7, z=6)
for c in mr_alert_cols:
    dot(mr_x(c), 851, 6.4, RED)
    T(mr_x(c), 851, "!", 6.5, WHITE, "bold", "center")
T(855, 850, "Ticket ID", 6.5, WHITE, "bold")
T(899, 850, "Codes ‹ ›", 6.5, WHITE, "bold")
T(940, 850, "Equipment", 6.5, WHITE, "bold")
T(1013, 850, "Stations", 6.5, WHITE, "bold")
T(1115, 850, "Rank", 6.5, WHITE, "bold", "right")
for i in range(16):
    hl(850, 1568, 841 + 17.97 * (i + (1 if i else 0)), "#3a3d62", 1)
for i in range(15):
    yr = 868 + 17.97 * i
    T(856, yr + 0.5, mr_tickets[i], 7, "#9cb0e0", f=MONO)
    T(940, yr, mr_equipment[i], 7.5, SOFT)
    T(1013, yr, mr_stations[i], 7.5, SOFT)
    T(1115, yr, mr_rank[i], 7, SOFT, ha="right", f=MONO)
    for k, code in enumerate(mr_codes[i]):
        xb = 907 + k * 10 if code == "B" else 907 + k * 12
        badge(xb, yr, code, 5.2, 6.6, wide=6.6 if code == "B" else 8)
    if mr_extra[i]:
        T(928, yr - 1, mr_extra[i], 5.5, SOFT, "bold")
dot(851.5, 904, 2.6, "none", ec=SOFT, lw=0.7)
dot(851.5, 957, 2.6, "none", ec=SOFT, lw=0.7)
T(839, 1026, "OUTAGES", 6.5, WHITE, "bold", "center", rotation=90)
for r, c, k in mr_squares:
    yr = 868 + 17.97 * r
    box(mr_x(c) - 8.9, yr - 8, mr_x(c) + 8.9, yr + 8, k, z=4, ec="#8a8fb0", lw=0.6)
for r, c, l, k in mr_pills:
    pill(mr_x, 868 + 17.97 * r, c, l, k, 17.85, 6.3, 6)

# ============ bottom left
box(0, 1137, 496, 1160, NAV, z=2)
nav([(308, "CREATE STUDY", 346), (367, "METRICS", None), (407, "STUDY ARCHIVE", None)], 1148, 4.0, 461, 4.5, 467)
T(44, 1176, "Violation & Reactive Summary", 8.2, WHITE, "bold", f=SANS)
box(11, 1192, 485, 1323, PANEL, z=2)
T(54, 1209, "Voltage Violations", 6.6, WHITE, "bold")
T(23, 1224, "Voltage Level", 3.6, SOFT, "bold")
vv_right = [103, 196, 264, 326, 388, 448]
vv_dots = [82, 173, 240]
for x, s in zip(vv_right, vv_heads):
    T(x, 1224, s, 3.6, SOFT, "bold", "right")
box(22, 1246, 474, 1263, BAND, z=2.1)
box(22, 1279, 474, 1296, BAND, z=2.1)
hl(22, 474, 1229, "#6d7090", 0.8)
for i in range(10):
    y = 1234 + 8.27 * i
    if i % 2 == 0:
        T(23, y + 4, voltage_levels[i // 2], 6, SOFT)
        hl(22, 474, y - 4.1, "#5a5d80", 0.6)
    else:
        hl(43, 474, y - 4.1, "#3a3d62", 0.6)
    T(46, y, "V", 3.6, SOFT, "bold")
    for j, x in enumerate(vv_right):
        if not (i == 7 and j == 4):
            T(x, y, vv_values[i] + " kV", 3.6, SOFT, ha="right", f=MONO)
for r, c in vv_red:
    dot(vv_dots[c], 1234 + 8.27 * r, 2.1, RED)
for x in (43, 59, 128):
    vl(x, 1221 if x == 128 else 1230, 1313, "#5a5d80", 0.6)

box(11, 1334, 485, 1488, PANEL, z=2)
T(55, 1353, "Reactive Summary", 6.8, WHITE, "bold")
T(382, 1351, "Region", 4.2, WHITE, "bold")
box(404, 1344, 474, 1358, NAV, z=3)
T(408, 1351, "Total System", 3.9, "#8e93b4")
chev(467, 1351, 1.5, WHITE, lw=0.7)
T(23, 1386, "Voltage Level", 3.6, SOFT, "bold")
hl(22, 474, 1391, "#4a4d72", 0.7)
rs_y = [1399, 1415.5, 1432, 1449, 1465.5]
for i, y in enumerate(rs_y):
    if i % 2 == 1:
        box(22, y - 8.3, 474, y + 8.3, BAND, z=2.1)
    T(23, y, voltage_levels[i], 6, SOFT)
for g, name in enumerate(rs_groups):
    dx = 136.7 * g
    T(132 + dx, 1370, name, 4.2, SOFT, ha="center")
    hl(80 + dx, 185 + dx, 1375, "#6d7090", 0.6)
    vl(64 + dx, 1380, 1474, "#5a5d80", 0.6)
    T(104 + dx, 1386, "# Online / Total", 3.6, SOFT, "bold", "center")
    T(160.5 + dx, 1380, "MVAR Capacity", 3.6, SOFT, "bold", "center")
    T(160.5 + dx, 1386, "In / Total", 3.6, SOFT, "bold", "center")
    for i, y in enumerate(rs_y):
        T(104 + dx, y - 3, rs_online, 3.8, SOFT, ha="center", f=MONO)
        T(160.5 + dx, y - 3, rs_mvar, 3.8, SOFT, ha="center", f=MONO)
        progress(80 + dx, 128 + dx, y + 1.7, rs_fill[i], 2.4)
        progress(136 + dx, 185 + dx, y + 1.7, rs_fill[i], 2.4)

# ============ bottom middle: generation summary
box(510, 1137, 1092, 1173, NAV, z=2)
nav([(798, "CREATE STUDY", 857), (890, "METRICS", None), (952, "STUDY ARCHIVE", None)], 1155, 6.1, 1036, 6.5, 1047)
T(577, 1199, "Generation Summary", 12.5, WHITE, "bold")
T(926, 1203, "Region", 6, WHITE, "bold")
box(961, 1192, 1070, 1215, NAV, z=3)
T(966, 1203, "Total System", 6, "#8e93b4")
chev(1060, 1204, 2.2, WHITE)
box(528, 1223, 1074, 1474, PANEL, z=2)
box(528, 1491, 837, 1498, PANEL, z=2)
box(856, 1491, 1076, 1498, PANEL, z=2)
T(543, 1243, "System Transmission Level Generation", 8.8, WHITE, "bold", f=SANS)
T(1057, 1244, "Total Generation Online", 6, SOFT, ha="right")
T(1057, 1256, "455,000 MV  |  35,300 MVAR", 5.5, SOFT, ha="right", f=MONO)
# stacked generation bar
left = 543.0
centers = []
for share, colr in zip(gen_share, gen_colors):
    wd = share * 515 / 100
    ax.barh(1274.5, wd, left=left, height=9.5, color=colr, edgecolor=DARK, linewidth=0.4, zorder=4)
    centers.append(left + wd / 2)
    left += wd
ax.set_xlim(0, 1568)
ax.set_ylim(1498, 0)
for x, l, ic in zip(centers, gen_labels, gen_icons):
    icon(ic, x, 1289, 8, SOFT, 0.6)
    T(x, 1301, l, 5, SOFT, ha="center")
T(561, 1322, "Fuel Type", 5, SOFT, "bold")
T(665, 1322, "MW", 5, SOFT, "bold", "right")
T(722, 1322, "MVAR", 5, SOFT, "bold", "right")
T(769, 1322, "% of Total", 5, SOFT, "bold", "right")
reg_x = [831, 887, 942, 998, 1056]
for x, s in zip(reg_x, gen_regions):
    T(x, 1322, s, 5, SOFT, "bold", "right")
hl(558, 1058, 1329, "#6d7090", 1)
for i, (n, ic) in enumerate(zip(fuel_rows, fuel_icons)):
    y = 1337 + 16.2 * i
    icon(ic, 550, y, 5.5, SOFT, 0.5)
    T(561, y, n, 6, SOFT)
    T(665, y, "6,500 MW", 5.5, SOFT, ha="right", f=MONO)
    T(722, y, "500 MVAR", 5.5, SOFT, ha="right", f=MONO)
    T(769, y, fuel_pct[i], 5.5, SOFT, ha="right", f=MONO)
    for x in reg_x:
        T(x, y, fuel_region_pct[i], 5.5, SOFT, ha="right", f=MONO)
    hl(558, 1058, y + 8.1, "#474a70" if i < 6 else "#6d7090", 0.8)
vl(794, 1313, 1442, "#6d7090", 0.8)
T(561, 1450, "System Total", 6, WHITE, "bold")
T(665, 1450, "455,000 MW", 5.5, SOFT, ha="right", f=MONO)
T(722, 1450, "3,500 MVAR", 5.5, SOFT, ha="right", f=MONO)

# ============ bottom right: three year calendar
box(1105, 1137, 1568, 1165, NAV, z=2)
box(1105, 1170, 1568, 1193, "#2a2d55", z=2)
nav([(1320, "VIEW STANDARD STUDY", 1391), (1403, "CREATE STUDY", 1450), (1462, "STUDY ARCHIVE", None)], 1151, 4.7, 1523, 5.5, 1531)
T(1131, 1182, "Search", 3.9, WHITE, "bold")
rbox(1149, 1176, 1226, 1188, "none", r=1, ec="#4e5a98", lw=0.7)
T(1237, 1182, "Sort", 3.9, WHITE, "bold")
T(1314, 1182, "Filters", 3.9, WHITE, "bold")
for x0, x1, s in [(1251, 1300, "Ticket Number"), (1332, 1381, "Calendar Code"), (1386, 1435, "Region")]:
    rbox(x0, 1176, x1, 1188, "none", r=1, ec="#4e5a98", lw=0.7)
    T(x0 + 3, 1182, s, 3.9, SOFT)
    chev(x1 - 5, 1181, 1.5, WHITE, lw=0.7)
rbox(1506, 1175, 1549, 1188, "none", r=1, ec=BLUE, lw=1)
T(1527.5, 1182, "SHARE STUDY", 3.6, SOFT, "bold", "center")
T(1131, 1212, "02/03/2020 to 02/02/2023", 6, WHITE, "bold")
T(1550, 1211, "04/06/2020 17:07:04-0400", 5, WHITE, "bold", "right")
T(1131, 1225, "Three Year", 4.5, WHITE, "bold")
T(1297, 1232, "‹ ›", 4.5, WHITE, "bold", "center")
T(1223, 1239, "2019", 3.8, SOFT, "bold")
T(1223, 1245, "July", 3.8, SOFT, "bold")
T(1540, 1243, "August", 3.8, SOFT, "bold", "right")


def br_x(i):
    return 1225.4 + 10.24 * i


for i in range(32):
    if i % 2 == 1:
        box(br_x(i) - 5.1, 1247, br_x(i) + 5.1, 1465, GRID2, z=2)
for j, (l, n) in enumerate(zip(br_day_letters, br_day_nums)):
    T(br_x(j), 1253, l, 3.6, SOFT, ha="center", f=MONO)
    if n:
        T(br_x(j), 1258, n, 3.6, SOFT, ha="center", f=MONO)
for i in range(19):
    hl(1220, 1549, 1263 + i * 10.26 + (10.26 if i else 0), "#3a3d62", 0.7)
for c in br_alert_cols:
    dot(br_x(c), 1268, 3.7, RED)
    T(br_x(c), 1268, "!", 3.5, WHITE, "bold", "center")
T(1135, 1279, "Ticket ID", 4.2, WHITE, "bold")
T(1166, 1279, "Engineer", 4.2, WHITE, "bold")
T(1194, 1279, "Name", 4.2, WHITE, "bold")
for i, n in enumerate(br_names):
    y = 1288.8 + 10.26 * i
    hl(1131, 1220, y + 5.1, "#3a3d62", 0.6)
    T(1135, y, "12345678", 4.2, SOFT, f=MONO)
    T(1166, y, n, 4.4, SOFT)
    T(1194, y, "Braddock", 4.4, SOFT)
for r, c, l, k in br_pills:
    pill(br_x, 1288.8 + 10.26 * r, c, l, k, 10.24, 3.8, 3.2, base=ORANGE, ec="none", txt="#ffe9c0")
dot(br_x(7), 1288.8 + 10.26 * 4, 3.7, RED)
T(br_x(7), 1288.8 + 10.26 * 4, "!", 3.5, WHITE, "bold", "center")
dot(br_x(7), 1288.8 + 10.26 * 6, 3.7, BLUE)
rbox(br_x(7) - 5.1, 1244, br_x(7) + 5.1, 1465, "none", r=0.5, z=6, ec="#a02a3c", lw=0.9)
T(1122, 1379, "OUTAGES", 3.6, WHITE, "bold", "center", rotation=90)

# white gaps between the screenshots, clips whatever runs past a panel
for x0, y0, x1, y1 in [(656, 0, 670, 550), (0, 533, 1568, 550), (795, 550, 812, 1137), (0, 1120, 1568, 1137),
                       (496, 1137, 510, 1498), (1092, 1137, 1105, 1498)]:
    box(x0, y0, x1, y1, "white", z=50)

plt.savefig("out.png", dpi=100, facecolor="white")
